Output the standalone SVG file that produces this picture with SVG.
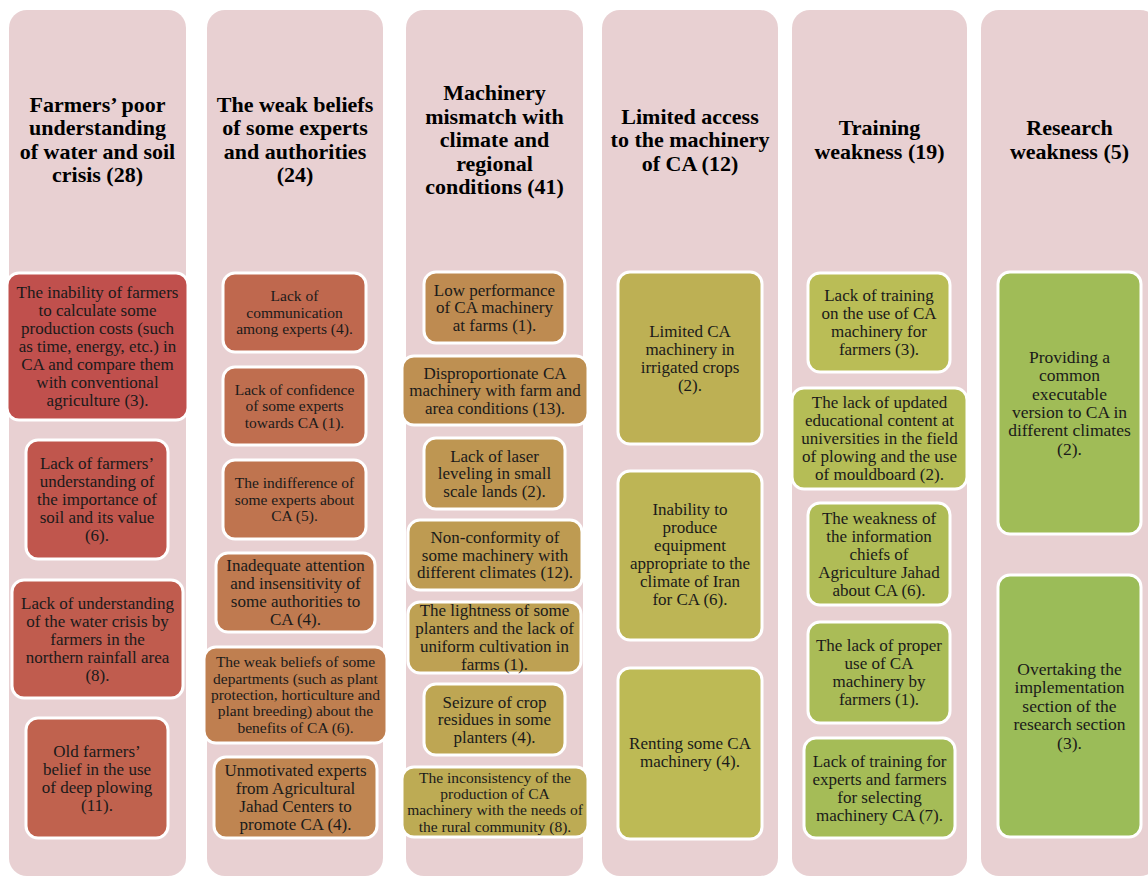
<svg xmlns="http://www.w3.org/2000/svg" width="1148" height="877" viewBox="0 0 1148 877">
<style>
.col{fill:#E8D0D2}
.box{stroke:#fff;stroke-width:3}
.h{font-family:"Liberation Serif","Times New Roman",serif;font-weight:bold;font-size:22px;fill:#000;text-anchor:middle}
.t{font-family:"Liberation Serif","Times New Roman",serif;font-size:17px;fill:#1a1a1a;text-anchor:middle}
.s{font-size:15.5px}
.b{font-size:17.5px}
</style>
<rect width="1148" height="877" fill="#fff"/>
<g id="connectors"></g>
<!-- Column 1 -->
<g id="col1">
<rect class="col" x="9" y="10" width="177" height="866" rx="18"/>
<text class="h"><tspan x="97.5" y="112">Farmers’ poor</tspan><tspan x="97.5" y="135">understanding</tspan><tspan x="97.5" y="159">of water and soil</tspan><tspan x="97.5" y="182">crisis (28)</tspan></text>
</g>
<g id="c1b1"><rect class="box" x="7" y="273" width="181" height="147" rx="12" fill="hsl(1.6,47.8%,52.7%)"/>
<text class="t"><tspan x="97.5" y="298">The inability of farmers</tspan><tspan x="97.5" y="316">to calculate some</tspan><tspan x="97.5" y="334">production costs (such</tspan><tspan x="97.5" y="352">as time, energy, etc.) in</tspan><tspan x="97.5" y="370">CA and compare them</tspan><tspan x="97.5" y="388">with conventional</tspan><tspan x="97.5" y="406">agriculture (3).</tspan></text></g>
<g id="c1b2"><rect class="box" x="26" y="440" width="142" height="119" rx="12" fill="hsl(4.6,47.6%,52.8%)"/>
<text class="t"><tspan x="97" y="469">Lack of farmers’</tspan><tspan x="97" y="487">understanding of</tspan><tspan x="97" y="505">the importance of</tspan><tspan x="97" y="523">soil and its value</tspan><tspan x="97" y="541">(6).</tspan></text></g>
<g id="c1b3"><rect class="box" x="12" y="580" width="171" height="118" rx="12" fill="hsl(7.6,47.4%,52.8%)"/>
<text class="t"><tspan x="97.5" y="608.5">Lack of understanding</tspan><tspan x="97.5" y="626.5">of the water crisis by</tspan><tspan x="97.5" y="644.5">farmers in the</tspan><tspan x="97.5" y="662.5">northern rainfall area</tspan><tspan x="97.5" y="680.5">(8).</tspan></text></g>
<g id="c1b4"><rect class="box" x="26" y="718" width="142" height="120" rx="12" fill="hsl(10.6,47.2%,52.9%)"/>
<text class="t"><tspan x="97" y="756.5">Old farmers’</tspan><tspan x="97" y="774.5">belief in the use</tspan><tspan x="97" y="792.5">of deep plowing</tspan><tspan x="97" y="810.5">(11).</tspan></text></g>
<!-- Column 2 -->
<g id="col2">
<rect class="col" x="207" y="10" width="176" height="866" rx="18"/>
<text class="h"><tspan x="295" y="112">The weak beliefs</tspan><tspan x="295" y="135">of some experts</tspan><tspan x="295" y="159">and authorities</tspan><tspan x="295" y="182">(24)</tspan></text>
</g>
<g id="c2b1"><rect class="box" x="223" y="273" width="143" height="79" rx="12" fill="hsl(13.6,47%,52.9%)"/>
<text class="t s"><tspan x="294.5" y="301">Lack of</tspan><tspan x="294.5" y="317.5">communication</tspan><tspan x="294.5" y="334">among experts (4).</tspan></text></g>
<g id="c2b2"><rect class="box" x="223" y="367" width="143" height="78" rx="12" fill="hsl(16.6,46.8%,53%)"/>
<text class="t s"><tspan x="294.5" y="394.5">Lack of confidence</tspan><tspan x="294.5" y="411">of some experts</tspan><tspan x="294.5" y="427.5">towards CA (1).</tspan></text></g>
<g id="c2b3"><rect class="box" x="223" y="460" width="143" height="79" rx="12" fill="hsl(19.6,46.6%,53%)"/>
<text class="t s"><tspan x="294.5" y="488">The indifference  of</tspan><tspan x="294.5" y="504.5">some experts about</tspan><tspan x="294.5" y="521">CA (5).</tspan></text></g>
<g id="c2b4"><rect class="box" x="216" y="553" width="159" height="79" rx="12" fill="hsl(22.6,46.4%,53.1%)"/>
<text class="t"><tspan x="295.5" y="571">Inadequate attention</tspan><tspan x="295.5" y="589">and insensitivity of</tspan><tspan x="295.5" y="607">some authorities to</tspan><tspan x="295.5" y="625">CA (4).</tspan></text></g>
<g id="c2b5"><rect class="box" x="204" y="647" width="183" height="96" rx="12" fill="hsl(25.6,46.2%,53.1%)"/>
<text class="t s"><tspan x="295.5" y="667.4">The weak beliefs  of some</tspan><tspan x="295.5" y="683.7">departments (such as plant</tspan><tspan x="295.5" y="700">protection, horticulture  and</tspan><tspan x="295.5" y="716.3">plant breeding)  about the</tspan><tspan x="295.5" y="732.6">benefits of CA (6).</tspan></text></g>
<g id="c2b6"><rect class="box" x="214" y="757" width="163" height="81" rx="12" fill="hsl(28.6,46%,53.2%)"/>
<text class="t"><tspan x="295.5" y="776">Unmotivated experts</tspan><tspan x="295.5" y="794">from Agricultural</tspan><tspan x="295.5" y="812">Jahad Centers to</tspan><tspan x="295.5" y="830">promote CA (4).</tspan></text></g>
<!-- Column 3 -->
<g id="col3">
<rect class="col" x="406" y="10" width="177" height="866" rx="18"/>
<text class="h"><tspan x="494.5" y="100">Machinery</tspan><tspan x="494.5" y="123.5">mismatch with</tspan><tspan x="494.5" y="147">climate and</tspan><tspan x="494.5" y="170.5">regional</tspan><tspan x="494.5" y="194">conditions (41)</tspan></text>
</g>
<g id="c3b1"><rect class="box" x="424" y="272" width="141" height="71" rx="12" fill="hsl(31.6,45.8%,53.2%)"/>
<text class="t"><tspan x="494.5" y="295.5">Low performance</tspan><tspan x="494.5" y="313">of CA machinery</tspan><tspan x="494.5" y="330.5">at farms (1).</tspan></text></g>
<g id="c3b2"><rect class="box" x="402" y="356" width="186" height="69" rx="12" fill="hsl(34.6,45.6%,53.3%)"/>
<text class="t"><tspan x="495" y="378.5">Disproportionate CA</tspan><tspan x="495" y="396">machinery with farm and</tspan><tspan x="495" y="413.5">area conditions (13).</tspan></text></g>
<g id="c3b3"><rect class="box" x="424" y="438" width="141" height="71" rx="12" fill="hsl(37.6,45.4%,53.3%)"/>
<text class="t"><tspan x="494.5" y="461.5">Lack of laser</tspan><tspan x="494.5" y="479">leveling in small</tspan><tspan x="494.5" y="496.5">scale lands (2).</tspan></text></g>
<g id="c3b4"><rect class="box" x="408" y="520" width="174" height="70" rx="12" fill="hsl(40.6,45.2%,53.4%)"/>
<text class="t"><tspan x="495" y="543">Non-conformity of</tspan><tspan x="495" y="560.5">some machinery with</tspan><tspan x="495" y="578">different climates (12).</tspan></text></g>
<g id="c3b5"><rect class="box" x="408" y="602" width="173" height="71" rx="12" fill="hsl(43.6,45%,53.5%)"/>
<text class="t"><tspan x="494.5" y="616">The lightness of some</tspan><tspan x="494.5" y="634">planters and the lack of</tspan><tspan x="494.5" y="652">uniform cultivation in</tspan><tspan x="494.5" y="670">farms (1).</tspan></text></g>
<g id="c3b6"><rect class="box" x="424" y="684" width="141" height="71" rx="12" fill="hsl(46.6,44.8%,53.5%)"/>
<text class="t"><tspan x="494.5" y="707.5">Seizure of crop</tspan><tspan x="494.5" y="725">residues in some</tspan><tspan x="494.5" y="742.5">planters (4).</tspan></text></g>
<g id="c3b7"><rect class="box" x="402" y="767" width="186" height="70" rx="12" fill="hsl(49.6,44.6%,53.6%)"/>
<text class="t s"><tspan x="495" y="782.5">The inconsistency of the</tspan><tspan x="495" y="798.8">production of CA</tspan><tspan x="495" y="815.1">machinery with the needs of</tspan><tspan x="495" y="831.5">the rural community (8).</tspan></text></g>
<!-- Column 4 -->
<g id="col4">
<rect class="col" x="602" y="10" width="176" height="866" rx="18"/>
<text class="h"><tspan x="690" y="123.5">Limited access</tspan><tspan x="690" y="147">to the machinery</tspan><tspan x="690" y="170.5">of CA (12)</tspan></text>
</g>
<g id="c4b1"><rect class="box" x="618" y="272" width="144" height="172" rx="12" fill="hsl(52.6,44.4%,53.6%)"/>
<text class="t"><tspan x="690" y="336.5">Limited CA</tspan><tspan x="690" y="354.5">machinery in</tspan><tspan x="690" y="372.5">irrigated crops</tspan><tspan x="690" y="390.5">(2).</tspan></text></g>
<g id="c4b2"><rect class="box" x="618" y="471" width="144" height="169" rx="12" fill="hsl(55.6,44.2%,53.7%)"/>
<text class="t"><tspan x="690" y="515">Inability to</tspan><tspan x="690" y="533">produce</tspan><tspan x="690" y="551">equipment</tspan><tspan x="690" y="569">appropriate to the</tspan><tspan x="690" y="587">climate of Iran</tspan><tspan x="690" y="605">for CA (6).</tspan></text></g>
<g id="c4b3"><rect class="box" x="618" y="668" width="144" height="171" rx="12" fill="hsl(58.6,44%,53.7%)"/>
<text class="t"><tspan x="690" y="749">Renting some CA</tspan><tspan x="690" y="767">machinery (4).</tspan></text></g>
<!-- Column 5 -->
<g id="col5">
<rect class="col" x="792" y="10" width="175" height="866" rx="18"/>
<text class="h"><tspan x="879.5" y="135">Training</tspan><tspan x="879.5" y="159">weakness (19)</tspan></text>
</g>
<g id="c5b1"><rect class="box" x="808" y="273" width="142" height="99" rx="12" fill="hsl(61.6,43.8%,53.8%)"/>
<text class="t"><tspan x="879" y="301">Lack of training</tspan><tspan x="879" y="319">on the use of CA</tspan><tspan x="879" y="337">machinery for</tspan><tspan x="879" y="355">farmers (3).</tspan></text></g>
<g id="c5b2"><rect class="box" x="792" y="388" width="175" height="101" rx="12" fill="hsl(64.6,43.6%,53.8%)"/>
<text class="t"><tspan x="879.5" y="408">The lack of updated</tspan><tspan x="879.5" y="426">educational content at</tspan><tspan x="879.5" y="444">universities in the field</tspan><tspan x="879.5" y="462">of plowing and the use</tspan><tspan x="879.5" y="480">of mouldboard (2).</tspan></text></g>
<g id="c5b3"><rect class="box" x="808" y="503" width="142" height="102" rx="12" fill="hsl(67.6,43.4%,53.9%)"/>
<text class="t"><tspan x="879" y="523.5">The weakness of</tspan><tspan x="879" y="541.5">the information</tspan><tspan x="879" y="559.5">chiefs of</tspan><tspan x="879" y="577.5">Agriculture Jahad</tspan><tspan x="879" y="595.5">about CA (6).</tspan></text></g>
<g id="c5b4"><rect class="box" x="808" y="622" width="142" height="101" rx="12" fill="hsl(70.6,43.2%,53.9%)"/>
<text class="t"><tspan x="879" y="651">The lack of proper</tspan><tspan x="879" y="669">use of CA</tspan><tspan x="879" y="687">machinery by</tspan><tspan x="879" y="705">farmers (1).</tspan></text></g>
<g id="c5b5"><rect class="box" x="804" y="738" width="151" height="100" rx="12" fill="hsl(73.6,43%,54%)"/>
<text class="t"><tspan x="879.5" y="766.5">Lack of training for</tspan><tspan x="879.5" y="784.5">experts and farmers</tspan><tspan x="879.5" y="802.5">for selecting</tspan><tspan x="879.5" y="820.5">machinery CA (7).</tspan></text></g>
<!-- Column 6 -->
<g id="col6">
<rect class="col" x="981" y="10" width="177" height="866" rx="18"/>
<text class="h"><tspan x="1069.5" y="135">Research</tspan><tspan x="1069.5" y="159">weakness (5)</tspan></text>
</g>
<g id="c6b1"><rect class="box" x="998" y="272" width="143" height="262" rx="12" fill="hsl(76.6,42.8%,54%)"/>
<text class="t b"><tspan x="1069.5" y="362.7">Providing a</tspan><tspan x="1069.5" y="381.1">common</tspan><tspan x="1069.5" y="399.5">executable</tspan><tspan x="1069.5" y="417.9">version to CA in</tspan><tspan x="1069.5" y="436.3">different climates</tspan><tspan x="1069.5" y="454.7">(2).</tspan></text></g>
<g id="c6b2"><rect class="box" x="998" y="575" width="143" height="262" rx="12" fill="hsl(79.6,42.6%,54.1%)"/>
<text class="t b"><tspan x="1069.5" y="674.9">Overtaking the</tspan><tspan x="1069.5" y="693.3">implementation</tspan><tspan x="1069.5" y="711.7">section of the</tspan><tspan x="1069.5" y="730.1">research section</tspan><tspan x="1069.5" y="748.5">(3).</tspan></text></g>
</svg>
